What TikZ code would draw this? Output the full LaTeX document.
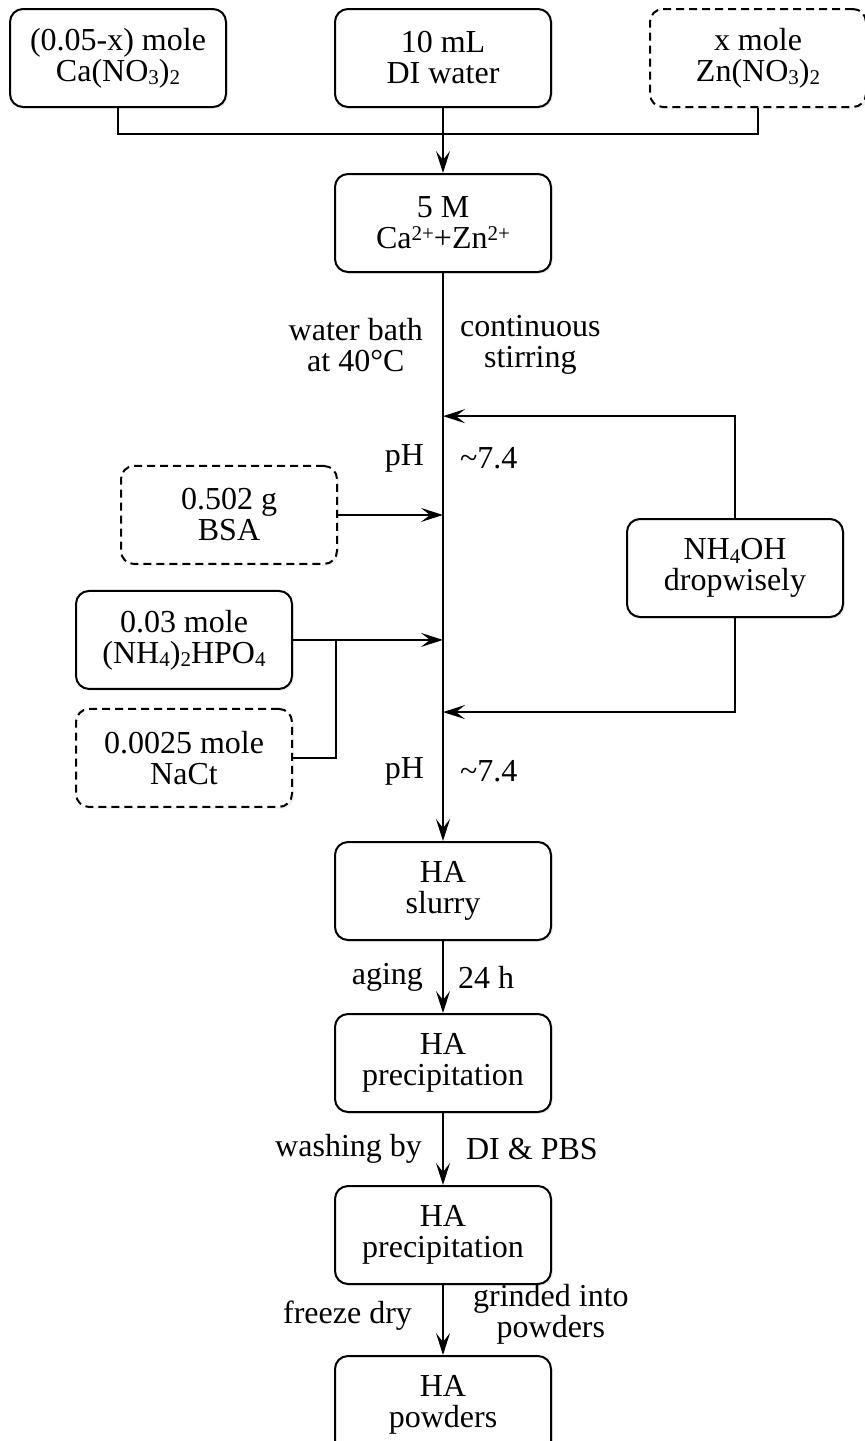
\documentclass[tikz,border=0pt]{standalone}
\usepackage{fontspec}
\setmainfont{Liberation Serif}
\usetikzlibrary{arrows.meta,positioning,calc,shadows}

\newcommand{\chsub}[1]{\raisebox{-1.8pt}{\fontsize{10.5pt}{10.5pt}\selectfont #1}}
\newcommand{\chsup}[1]{\raisebox{4pt}{\fontsize{10.5pt}{10.5pt}\selectfont #1}}

\begin{document}
\begin{tikzpicture}[
    x=0.5pt, y=-0.5pt,
    auto,
    node distance=36pt,
    >={Stealth[length=11pt, width=7pt, inset=4.5pt]},
    block/.style={draw, rectangle, rounded corners=6.5pt, minimum height=49pt, minimum width=108pt, align=center, line width=1pt, fill=white, font=\fontsize{16pt}{15.5pt}\selectfont, drop shadow={opacity=0.12, shadow xshift=1pt, shadow yshift=-1pt}},
    optblock/.style={block, dash pattern=on 4pt off 2.5pt},
    note/.style={align=center, inner sep=1pt, font=\fontsize{16pt}{15.3pt}\selectfont},
    connector/.style={->, line width=1.1pt},
    line/.style={line width=1.1pt}
]
    \useasboundingbox (0,0) rectangle (865,1441);

    \node [block] (water) at (443,58) {10 mL\\DI water};
    \node [block, left=53.5pt of water] (ca) {(0.05-x) mole\\Ca(NO\chsub{3})\chsub{2}};
    \node [optblock, right=48.5pt of water] (zn) {x mole\\Zn(NO\chsub{3})\chsub{2}};

    \node [block, below=32.5pt of water] (mix) {5 M\\Ca\chsup{2+}+Zn\chsup{2+}};
    \node [block, below=284pt of mix] (slurry) {HA\\slurry};
    \node [block, below=of slurry] (precip1) {HA\\precipitation};
    \node [block, below=of precip1] (precip2) {HA\\precipitation};
    \node [block, below=35pt of precip2] (powder) {HA\\powders};


    \coordinate (join) at ($(water.south)+(0,26)$);
    \draw [line] (ca.south) |- (join) -| (zn.south);
    \draw [connector] (water) -- (mix);


    \draw [connector] (mix) --
        node [note, left=8.5pt, pos=0.127] (bath) {water bath\\at 40°C}
        node [note, right=7pt, pos=0.127] (stir) {continuous\\stirring}
        coordinate [pos=0.252] (in_top)
        node [note, left=8pt, pos=0.326] (ph1) {pH}
        node [note, right=7pt, pos=0.326] (ph1_val) {\textasciitilde 7.4}
        coordinate [pos=0.426] (in_bsa)
        coordinate [pos=0.646] (in_hpo)
        coordinate [pos=0.773] (in_bot)
        node [note, left=8pt, pos=0.877] (ph2) {pH}
        node [note, right=7pt, pos=0.877] (ph2_val) {\textasciitilde 7.4}
        (slurry);


    \node [optblock, left=52.5pt of in_bsa] (bsa) {0.502 g\\BSA};
    \node [block, left=75pt of in_hpo] (hpo) {0.03 mole\\(NH\chsub{4})\chsub{2}HPO\chsub{4}};
    \node [optblock, below=9pt of hpo] (nact) {0.0025 mole\\NaCt};
    \node [block] (nh4oh) at (735,568) {NH\chsub{4}OH\\dropwisely};

    \coordinate (hpo_join) at ($(hpo.east)+(43,0)$);
    \draw [connector] (bsa.east) -- (in_bsa);
    \draw [connector] (hpo.east) -- (in_hpo);
    \draw [line] (nact.east) -| (hpo_join);

    \draw [connector] (nh4oh.north) |- (in_top);
    \draw [connector] (nh4oh.south) |- (in_bot);


    \draw [connector] (slurry) -- node [note, left=8.5pt] (aging) {aging} node [note, right=6pt] (hours) {24 h} (precip1);
    \draw [connector] (precip1) -- node [note, left=9pt] (wash) {washing by} node [note, right=10pt] (pbs) {DI \& PBS} (precip2);
    \draw [connector] (precip2) -- node [note, left=14pt, yshift=2pt] (freeze) {freeze dry} node [note, right=13.5pt, yshift=3pt] (grind) {grinded into\\powders} (powder);

\end{tikzpicture}
\end{document}
